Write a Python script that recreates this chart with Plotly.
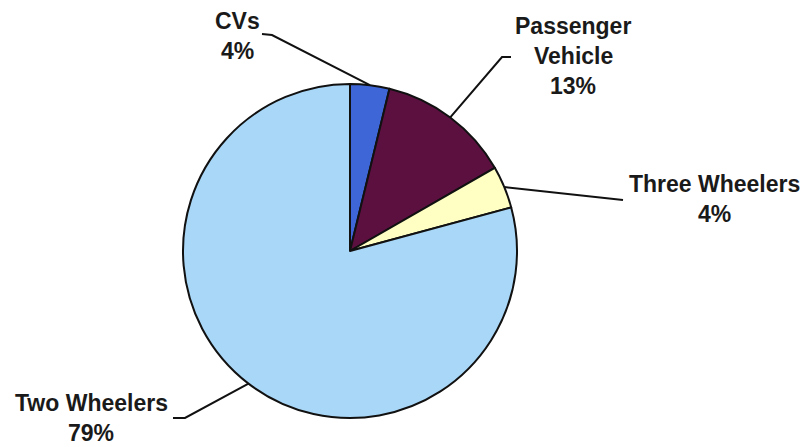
import math
import plotly.graph_objects as go

# ---- data ----
categories = ["CVs", "Passenger Vehicle", "Three Wheelers", "Two Wheelers"]
label_lines = [["CVs"], ["Passenger", "Vehicle"], ["Three Wheelers"], ["Two Wheelers"]]
shares = [3.8, 12.9, 4.1, 79.2]
colors = ["#3F66D6", "#5C1040", "#FFFFC4", "#A9D7F7"]

# ---- layout constants (pixels) ----
W, H = 802, 447
CX, CY, R = 350, 251, 167
FONT = "Liberation Sans, Arial, sans-serif"
FS = 23
LINE_GAP = 30
# per-label: text centre x, first-line centre y, leader points (after pie edge)
label_layout = [
    dict(x=237, y=21, pts=[(272, 35), (262, 34)]),
    dict(x=573, y=26, pts=[(502, 57), (511, 57)]),
    dict(x=714, y=184, pts=[(623, 200)]),
    dict(x=91, y=403, pts=[(185, 418), (173, 418)]),
]


def px(x):
    return x / W


def py(y):
    return (H - y) / H


fig = go.Figure(go.Pie(
    labels=categories,
    values=shares,
    sort=False,
    direction="clockwise",
    rotation=0,
    marker=dict(colors=colors, line=dict(color="#111111", width=2)),
    textinfo="none",
    hoverinfo="label+percent",
    showlegend=False,
    domain=dict(x=[px(CX - R), px(CX + R)], y=[py(CY + R), py(CY - R)]),
))

total = sum(shares)
annotations = []
shapes = []
cum = 0.0
for cat, lines, v, lay in zip(categories, label_lines, shares, label_layout):
    mid = (cum + v / 2) / total * 2 * math.pi
    cum += v
    ex = CX + R * math.sin(mid)
    ey = CY - R * math.cos(mid)
    pts = [(ex, ey)] + lay["pts"]
    path = "M " + " L ".join(f"{px(a):.5f},{py(b):.5f}" for a, b in pts)
    shapes.append(dict(type="path", xref="paper", yref="paper", path=path,
                       line=dict(color="#111111", width=2)))
    pct = f"{round(v / total * 100)}%"
    for i, t in enumerate(lines + [pct]):
        annotations.append(dict(
            x=px(lay["x"]), y=py(lay["y"] + i * LINE_GAP), xref="paper", yref="paper",
            text=f"<b>{t}</b>", showarrow=False, xanchor="center", yanchor="middle",
            font=dict(family=FONT, size=FS, color="#1a1a1a"),
        ))

fig.update_layout(
    width=W, height=H,
    margin=dict(l=0, r=0, t=0, b=0),
    paper_bgcolor="white", plot_bgcolor="white",
    annotations=annotations, shapes=shapes,
)

fig.write_html(
    "out.html",
    config={"displayModeBar": False},
    post_script="document.body.style.margin='0';document.body.style.overflow='hidden';",
)
